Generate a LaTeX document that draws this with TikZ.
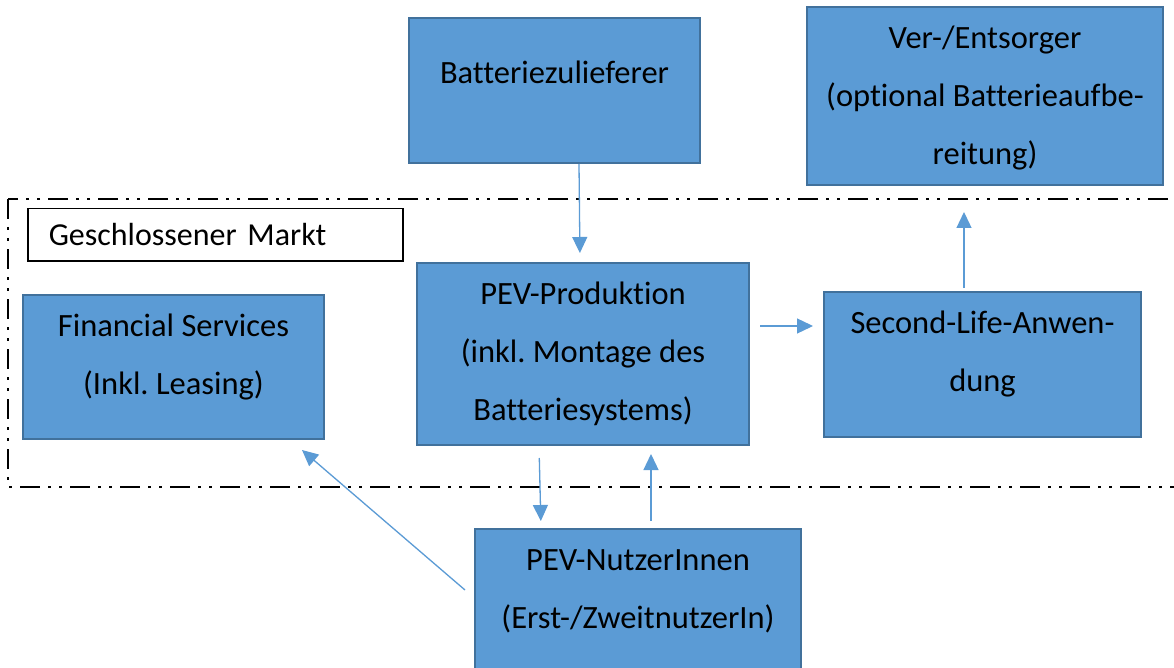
\documentclass[tikz,border=0pt]{standalone}
\usepackage{fontspec}
\setmainfont{Carlito}[Ligatures={NoCommon,NoRequired}]
\usetikzlibrary{arrows.meta,positioning}
\definecolor{boxblue}{HTML}{5B9BD5}
\definecolor{boxedge}{HTML}{41719C}
\frenchspacing

\begin{document}
\begin{tikzpicture}[
    x=1pt, y=-1pt,
    flowbox/.style={rectangle, anchor=north west, align=center, draw=boxedge, line width=2pt, fill=boxblue, font=\fontsize{32.5}{58}\selectfont},
    arrow/.style={draw=boxblue, line width=1.3pt, -{Triangle[width=15pt,length=16pt]}},
    marktframe/.style={line width=2.5pt, dash pattern=on 20pt off 8pt on 3pt off 8pt on 3pt off 8pt}
]
\clip (0,0) rectangle (1174,668);
\fill[white] (0,0) rectangle (1174,668);

% Closed market frame
\draw[marktframe] (8,199) rectangle (1200,487);
\node[rectangle, anchor=north west, draw=black, line width=1.5pt, fill=white, minimum width=375pt, minimum height=52pt, inner xsep=21pt, text width=333pt, align=left, font=\fontsize{32}{58}\selectfont] (markt) at (27,208) {Geschlossener Markt};

% Outside the market
\node[flowbox, minimum width=291pt, minimum height=145pt, text height=22pt, text depth=36pt] (batt) at (408,17) {Batteriezulieferer};
\node[flowbox, minimum width=356pt, minimum height=178pt, text height=145pt, text depth=8pt] (entsorger) at (806,6) {Ver-/Entsorger\\(optional Batterieaufbe-\\reitung)};

% Inside the market
\node[flowbox, minimum width=301pt, minimum height=144pt, text height=79pt, text depth=24pt] (finance) at (22,294) {Financial Services\\(Inkl. Leasing)};
\node[flowbox, minimum width=332pt, minimum height=182pt] (prod) at (416,262) {PEV-Produktion\\(inkl. Montage des\\Batteriesystems)};
\node[flowbox, minimum width=317pt, minimum height=145pt, text height=79pt, text depth=25pt] (second) at (823,291) {Second-Life-Anwen-\\dung};

% Users
\node[flowbox, minimum width=326pt, minimum height=200pt, text height=79pt, text depth=80pt] (nutzer) at (474,528) {PEV-NutzerInnen\\(Erst-/ZweitnutzerIn)};

% Arrows
\draw[arrow, shorten >=9pt] ([xshift=24.5pt]batt.south) -- ([xshift=-3pt]prod.north);
\draw[arrow, shorten <=10pt, shorten >=10pt] ([yshift=28pt]prod.east) -- ([yshift=28pt]prod.east -| second.west);
\draw[arrow, shorten <=3pt, shorten >=26pt] ([xshift=-18.5pt]second.north) -- ([xshift=-18.5pt]second.north |- entsorger.south);
\draw[arrow, shorten <=12pt, shorten >=7pt] ([xshift=-44pt]prod.south) -- ([xshift=-97pt]nutzer.north);
\draw[arrow, shorten <=7pt, shorten >=8pt] ([xshift=13pt]nutzer.north) -- ([xshift=13pt]nutzer.north |- prod.south);
\draw[arrow] ([xshift=-9pt,yshift=-62pt]nutzer.north west) -- ([xshift=-23pt,yshift=-10pt]finance.south east);

\end{tikzpicture}
\end{document}
